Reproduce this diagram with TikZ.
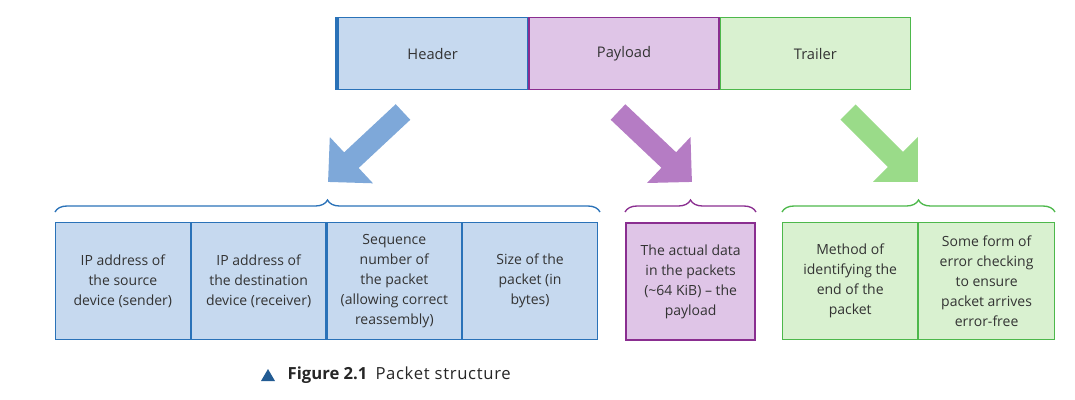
\documentclass[tikz,border=0pt]{standalone}
\usepackage{fontspec}
\setmainfont{Open Sans}
\usetikzlibrary{positioning,arrows.meta,decorations.pathreplacing}
\definecolor{hdfill}{HTML}{C6D9EF}
\definecolor{hdline}{HTML}{2A72B8}
\definecolor{pyfill}{HTML}{DFC5E7}
\definecolor{pyline}{HTML}{8A2E90}
\definecolor{trfill}{HTML}{D9F1D0}
\definecolor{trline}{HTML}{4DB84B}
\definecolor{hdarrow}{HTML}{7EA8D9}
\definecolor{pyarrow}{HTML}{B57CC4}
\definecolor{trarrow}{HTML}{9ADB89}
\tikzset{
  part/.style={draw, line width=1pt, minimum width=142.5pt, minimum height=54pt, inner sep=0pt, font=\fontsize{11}{13}\selectfont, text=black!80},
  cell/.style={draw, line width=0.8pt, minimum height=88pt, inner sep=0pt, align=center, font=\fontsize{10.5}{15}\selectfont, text=black!80},
  fat/.style={line width=16pt, -{Triangle[length=24pt,width=46pt]}},
  brc/.style={line width=1pt, decorate, decoration={brace, amplitude=9pt}}
}
\begin{document}
\begin{tikzpicture}[x=0.75pt,y=-0.75pt]
\useasboundingbox (0,0) rectangle (1075,400);
% top row
\node[part, draw=hdline, fill=hdfill, anchor=north west] (header) at (337,17) {Header};
\node[part, draw=pyline, fill=pyfill, right=0pt of header] (payload) {Payload};
\node[part, draw=trline, fill=trfill, right=0pt of payload] (trailer) {Trailer};
\draw[hdline, line width=2.5pt] (header.north west) -- (header.south west);
% arrows
\coordinate (ha) at (403,112); \coordinate (hb) at (328,182);
\coordinate (pa) at (618,112); \coordinate (pb) at (692,182);
\coordinate (ta) at (848,112); \coordinate (tb) at (918,182);
\draw[fat, hdarrow] (ha) -- (hb);
\draw[fat, pyarrow] (pa) -- (pb);
\draw[fat, trarrow] (ta) -- (tb);
% braces
\draw[brc, hdline] (55,212) -- (600,212);
\draw[brc, pyline] (625,212) -- (756,212);
\draw[brc, trline] (782,212) -- (1055,212);
% header cells
\node[cell, draw=hdline, fill=hdfill, minimum width=101pt, anchor=north west] (src) at (55,222) {IP address of\\the source\\device (sender)};
\node[cell, draw=hdline, fill=hdfill, minimum width=101pt, right=0pt of src] (dst) {IP address of\\the destination\\device (receiver)};
\node[cell, draw=hdline, fill=hdfill, minimum width=101pt, right=0pt of dst] (seq) {Sequence\\number of\\the packet\\(allowing correct\\reassembly)};
\node[cell, draw=hdline, fill=hdfill, minimum width=101pt, right=0pt of seq] (size) {Size of the\\packet (in\\bytes)};
% payload cell
\node[cell, draw=pyline, fill=pyfill, minimum width=97pt, anchor=north west, line width=1.5pt] (data) at (625,222) {The actual data\\in the packets\\(\textasciitilde64 KiB) -- the\\payload};
% trailer cells
\node[cell, draw=trline, fill=trfill, minimum width=101.5pt, anchor=north west] (end) at (782,222) {Method of\\identifying the\\end of the\\packet};
\node[cell, draw=trline, fill=trfill, minimum width=101.5pt, right=0pt of end] (err) {Some form of\\error checking\\to ensure\\packet arrives\\error-free};
% caption
\fill[hdline!80!black] (261,381) -- (275,381) -- (268,369) -- cycle;
\node[anchor=west, font=\fontsize{12.5}{15}\selectfont, text=black!85] (cap) at (283,375) {\textbf{Figure 2.1}\hspace{6pt}\addfontfeatures{LetterSpace=4}Packet structure};
\end{tikzpicture}
\end{document}
